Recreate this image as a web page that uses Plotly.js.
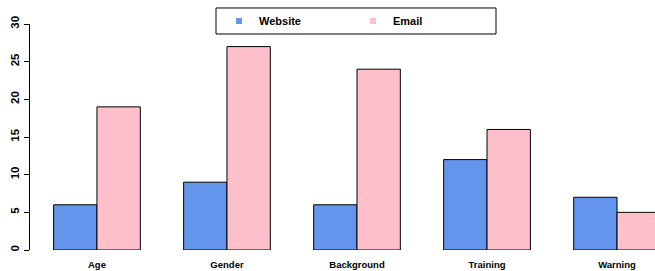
<!DOCTYPE html>
<html>
<head>
<meta charset="utf-8">
<script src="https://cdn.plot.ly/plotly-3.0.1.min.js"></script>
<style>html,body{margin:0;padding:0;background:#fff;}#chart{width:655px;height:271px;}</style>
</head>
<body>
<div id="chart"></div>
<script>
var categories = ["Age", "Gender", "Background", "Training", "Warning"];
var websiteValues = [6, 9, 6, 12, 7];
var emailValues = [19, 27, 24, 16, 5];
var yTicks = [0, 5, 10, 15, 20, 25, 30];

var websiteColor = "#6495ED";
var emailColor = "#FFC0CB";
var font = "Liberation Sans, Arial, sans-serif";

var traces = [
  {type: "bar", x: categories, y: websiteValues, name: "Website", showlegend: false,
   marker: {color: websiteColor, line: {color: "#000", width: 1}}},
  {type: "bar", x: categories, y: emailValues, name: "Email", showlegend: false,
   marker: {color: emailColor, line: {color: "#000", width: 1}}},
  {type: "scatter", mode: "markers", x: [null], y: [null], name: "Website",
   marker: {symbol: "square", size: 6, color: websiteColor}, hoverinfo: "skip"},
  {type: "scatter", mode: "markers", x: [null], y: [null], name: "Email",
   marker: {symbol: "square", size: 6, color: emailColor}, hoverinfo: "skip"}
];

var layout = {
  width: 655, height: 271,
  margin: {l: 30, r: 0, t: 24, b: 21, pad: 0},
  paper_bgcolor: "#fff", plot_bgcolor: "#fff",
  font: {family: font, size: 10, color: "#000"},
  barmode: "group", bargap: 1/3, bargroupgap: 0,
  xaxis: {type: "category", range: [-0.515, 4.292], showgrid: false, zeroline: false,
          showline: false, ticks: "outside", ticklen: 6, tickcolor: "rgba(0,0,0,0)",
          tickfont: {family: font, size: 9.5, color: "#000", weight: "bold"}},
  yaxis: {range: [0, 30], tickvals: yTicks, ticktext: yTicks.map(String), tickangle: -90,
          showgrid: false, zeroline: false, showline: true, linecolor: "#000", linewidth: 1,
          ticks: "outside", ticklen: 5, tickcolor: "#000", tickwidth: 1,
          tickfont: {family: font, size: 11.5, color: "#000", weight: "bold"}},
  showlegend: true,
  legend: {orientation: "h", x: 0.3024, xanchor: "left", y: 1.0133, yanchor: "middle",
           bgcolor: "rgba(0,0,0,0)", borderwidth: 0, entrywidthmode: "pixels", entrywidth: 89,
           font: {family: font, size: 11, color: "#000", weight: "bold"}},
  shapes: [
    {type: "rect", xref: "paper", yref: "paper", x0: 0.2976, x1: 0.7456, y0: 0.9558, y1: 1.0708,
     line: {color: "#000", width: 1}, fillcolor: "rgba(0,0,0,0)", layer: "above"}
  ]
};

Plotly.newPlot("chart", traces, layout, {displayModeBar: false, staticPlot: true});
</script>
</body>
</html>
